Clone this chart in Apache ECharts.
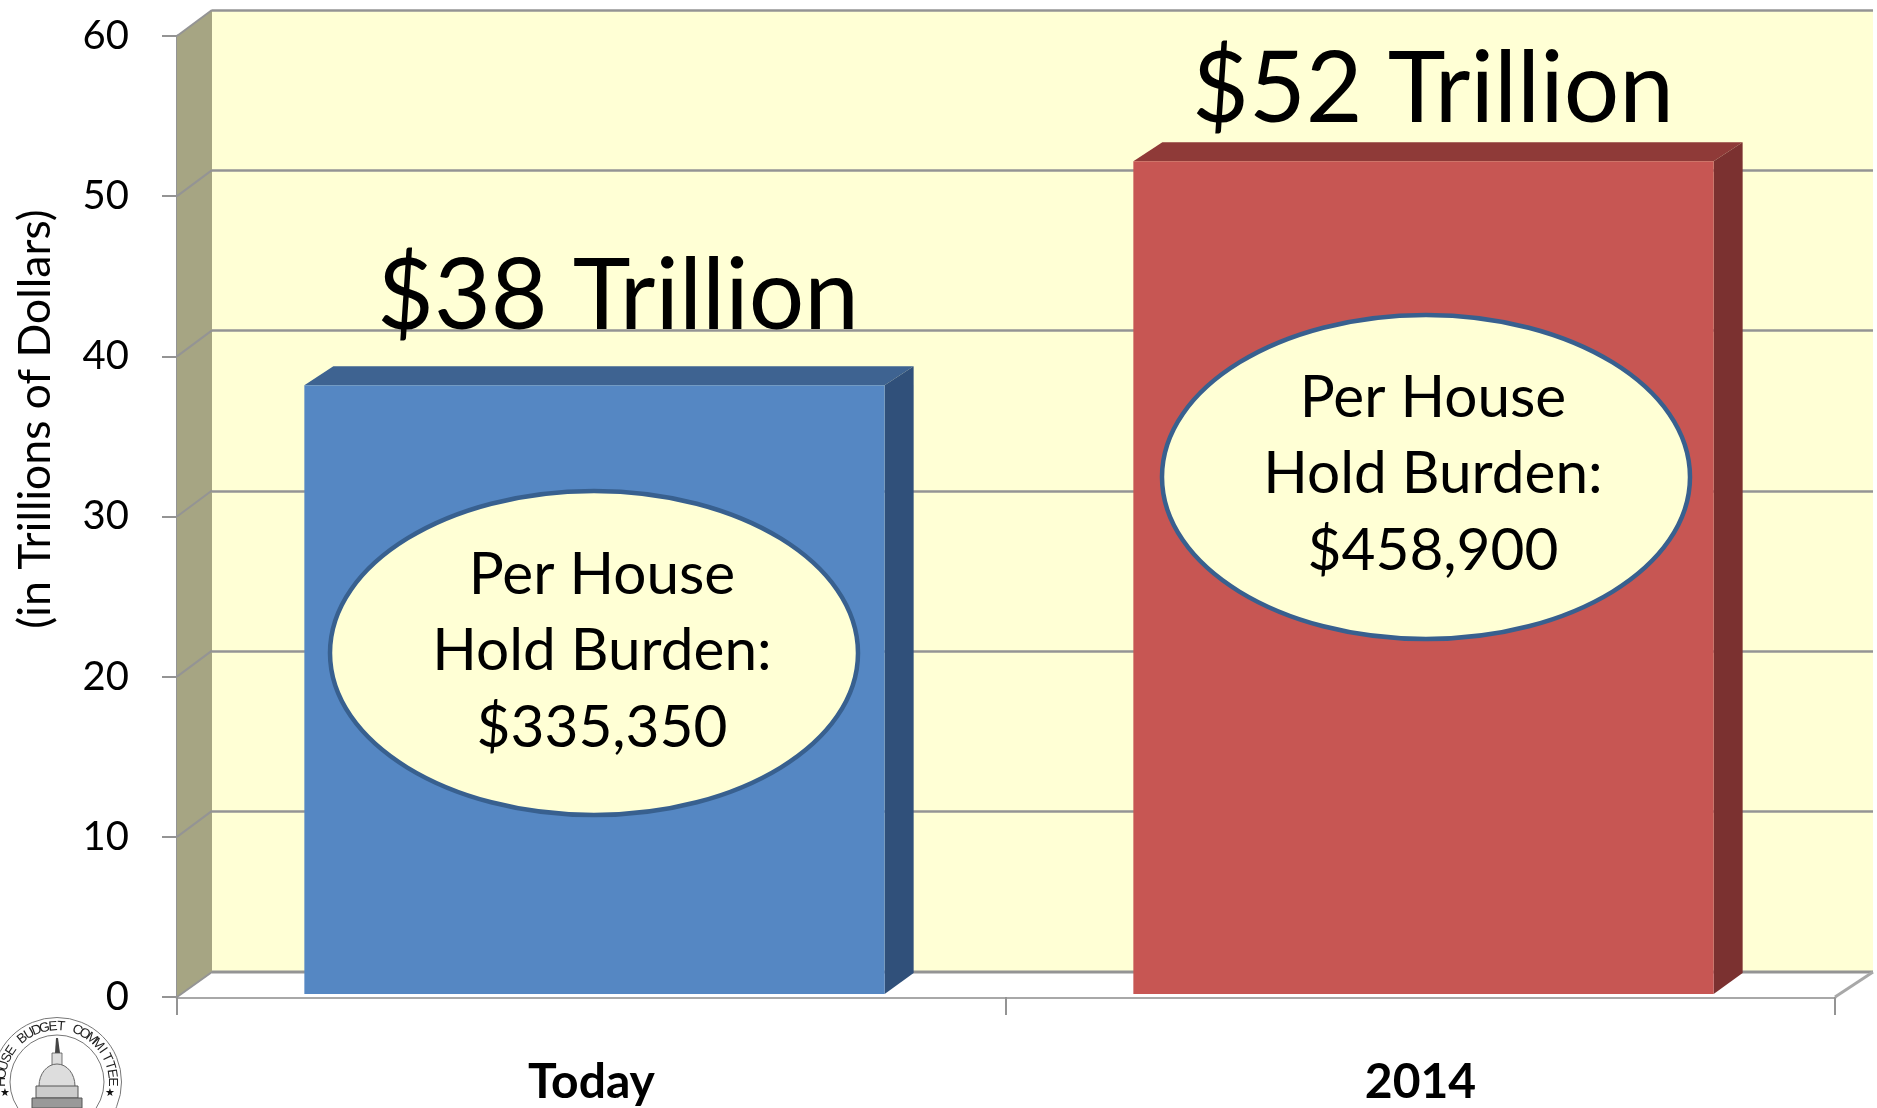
<!DOCTYPE html>
<html><head><meta charset="utf-8">
<style>html,body{margin:0;padding:0;background:#fff}#c{width:1877px;height:1108px}</style>
<script src="https://cdn.jsdelivr.net/npm/echarts@6/dist/echarts.min.js"></script>
</head><body><div id="c"></div>
<script>
const categories = ['Today', '2014'];
const trillions = [38, 52];
const totalLabels = ['$38 Trillion', '$52 Trillion'];
const burdenLabels = ['$335,350', '$458,900'];
const yTicks = [0, 10, 20, 30, 40, 50, 60];
const axisTitle = '(in Trillions of Dollars)';
const sealText = 'HOUSE BUDGET COMMITTEE';

const FONT = 'Lato';
const GRID = '#949494', WALL = '#FFFFD5', SIDE = '#A6A583';
const FRONT = {left: 177, top: 36, width: 1658, height: 961};
const BACK = {left: 212, top: 10, width: 1661, height: 962};
const barStyles = [
  {front: '#5587C3', top: '#3E6391', side: '#30507A'},
  {front: '#C75653', top: '#8F3A38', side: '#7B3130'}
];

const chart = echarts.init(document.getElementById('c'));

function wallItem(params, api) {
  const v = api.value(0);
  const p = api.coord([0, v]);
  const r = params.coordSys;
  const dx = BACK.left - FRONT.left;
  const dy = FRONT.top - BACK.top;
  const x0 = r.x, x1 = r.x + r.width;
  const kids = [];
  if (v === 0) {
    kids.push({type: 'polygon', shape: {points: [[x0, r.y], [x0 + dx, r.y - dy], [x0 + dx, r.y + r.height - dy + 1], [x0, r.y + r.height]]},
      style: {fill: SIDE}});
    kids.push({type: 'polygon', shape: {points: [[x0, r.y + r.height], [x0 + dx, r.y + r.height - dy + 1], [x1 + 38, r.y + r.height - dy + 1], [x1, r.y + r.height]]},
      style: {fill: '#fff'}});
    kids.push({type: 'line', shape: {x1: x0 + dx, y1: r.y + r.height - dy + 1, x2: x1 + 38, y2: r.y + r.height - dy + 1}, style: {stroke: GRID, lineWidth: 3}});
    kids.push({type: 'line', shape: {x1: x1, y1: r.y + r.height, x2: x1 + 38, y2: r.y + r.height - dy + 1}, style: {stroke: '#A8A8A8', lineWidth: 3}});
  }
  kids.push({type: 'line', shape: {x1: x0, y1: p[1], x2: x0 + dx, y2: p[1] - dy + (v === 0 ? 1 : 0)}, style: {stroke: GRID, lineWidth: 2}});
  return {type: 'group', children: kids};
}

function barItem(params, api) {
  const i = api.value(0), v = api.value(1);
  const top = api.coord([i, v]);
  const base = api.coord([i, 0]);
  const band = api.size([1, 0])[0];
  const w = band * 0.7, sx = 3, sy = -3, dx = 29, dy = 20;
  const x0 = top[0] - w / 2 + sx, x1 = x0 + w;
  const y0 = top[1] + sy, y1 = base[1] + sy;
  const c = barStyles[i];
  return {type: 'group', children: [
    {type: 'polygon', shape: {points: [[x0, y0], [x0 + dx, y0 - dy + 1], [x1 + dx, y0 - dy + 1], [x1, y0]]}, style: {fill: c.top}},
    {type: 'polygon', shape: {points: [[x1, y0], [x1 + dx, y0 - dy + 1], [x1 + dx, y1 - dy - 1], [x1, y1]]}, style: {fill: c.side}},
    {type: 'rect', shape: {x: x0, y: y0, width: w, height: y1 - y0}, style: {fill: c.front}}
  ]};
}

function burdenGraphic(i, cx, cy, tx, ty) {
  const lines = ['Per House', 'Hold Burden:', burdenLabels[i]];
  const kids = [{type: 'ellipse', shape: {cx: cx, cy: cy, rx: 264, ry: 162},
    style: {fill: WALL, stroke: '#38608F', lineWidth: 4.5}, z: 10}];
  lines.forEach((s, k) => kids.push({type: 'text', z: 11, x: tx, y: ty + k * 76.5,
    style: {text: s, fontFamily: FONT, fontSize: 58.5, fill: '#000', align: 'center', verticalAlign: 'middle'}}));
  return kids;
}

function sealGraphic() {
  const cx = 57, cy = 1082;
  const g = [
    {type: 'circle', shape: {cx: cx, cy: cy, r: 64.5}, style: {fill: '#fff', stroke: '#777', lineWidth: 1}, z: 10},
    {type: 'circle', shape: {cx: cx, cy: cy, r: 47}, style: {fill: '#fff', stroke: '#777', lineWidth: 1}, z: 10}
  ];
  const chars = sealText.split('');
  chars.forEach((ch, k) => {
    if (ch === ' ') return;
    const a = (-90 + k * 180 / (chars.length - 1)) * Math.PI / 180;
    g.push({type: 'text', z: 11, x: cx + 55.5 * Math.sin(a), y: cy - 55.5 * Math.cos(a), rotation: -a,
      style: {text: ch, fontFamily: 'Liberation Sans', fontSize: 13.5, fill: '#222', align: 'center', verticalAlign: 'middle'}});
  });
  [[5, 1093], [110, 1093]].forEach(p => g.push({type: 'text', z: 11, x: p[0], y: p[1],
    style: {text: '★', fontFamily: 'DejaVu Sans', fontSize: 11, fill: '#111', align: 'center', verticalAlign: 'middle'}}));
  g.push({type: 'polygon', z: 11, shape: {points: [[55, 1053], [56, 1038], [58, 1038], [60, 1053]]}, style: {fill: '#444'}});
  g.push({type: 'rect', z: 11, shape: {x: 52, y: 1053, width: 10, height: 12}, style: {fill: '#ddd', stroke: '#555', lineWidth: 0.8}});
  g.push({type: 'ellipse', z: 11, shape: {cx: 57, cy: 1086, rx: 18, ry: 22}, style: {fill: '#ddd', stroke: '#666', lineWidth: 1}});
  g.push({type: 'rect', z: 12, shape: {x: 36, y: 1086, width: 42, height: 12}, style: {fill: '#ccc', stroke: '#555', lineWidth: 1}});
  g.push({type: 'rect', z: 12, shape: {x: 32, y: 1098, width: 50, height: 10}, style: {fill: '#999', stroke: '#555', lineWidth: 1}});
  return g;
}

chart.setOption({
  animation: false,
  backgroundColor: '#fff',
  grid: [
    Object.assign({show: true, backgroundColor: WALL, borderWidth: 0, outerBoundsMode: 'none'}, BACK),
    Object.assign({show: false, outerBoundsMode: 'none'}, FRONT)
  ],
  xAxis: [
    {gridIndex: 0, type: 'category', data: categories, show: false},
    {gridIndex: 1, type: 'category', data: categories, boundaryGap: true,
      axisLine: {show: true, lineStyle: {color: '#A8A8A8', width: 3}},
      axisTick: {show: true, length: 18, alignWithLabel: false, interval: 0, lineStyle: {color: GRID, width: 2}},
      axisLabel: {margin: 62, fontFamily: FONT, fontSize: 48, fontWeight: 'bold', color: '#000', interval: 0},
      splitLine: {show: false}}
  ],
  yAxis: [
    {gridIndex: 0, type: 'value', min: 0, max: 60, interval: 10,
      axisLine: {show: false}, axisTick: {show: false}, axisLabel: {show: false},
      splitLine: {show: true, lineStyle: {color: GRID, width: 2.5}}},
    {gridIndex: 1, type: 'value', min: 0, max: 60, interval: 10,
      axisLine: {show: true, lineStyle: {color: GRID, width: 3}},
      axisTick: {show: true, length: 15, lineStyle: {color: GRID, width: 2}},
      axisLabel: {margin: 48, fontFamily: FONT, fontSize: 40, color: '#000', padding: [9, 0, 0, 0]},
      splitLine: {show: false}}
  ],
  series: [
    {type: 'custom', name: 'walls', xAxisIndex: 1, yAxisIndex: 1, z: 1, silent: true,
      encode: {y: 0}, data: yTicks.map(v => [v]), renderItem: wallItem, clip: false},
    {type: 'custom', name: 'Debt', xAxisIndex: 1, yAxisIndex: 1, z: 3, silent: true,
      encode: {x: 0, y: 1}, data: trillions.map((v, i) => [i, v]), renderItem: barItem, clip: false}
  ],
  graphic: {elements: [
    ...burdenGraphic(0, 594, 653, 602, 575),
    ...burdenGraphic(1, 1426, 477, 1433, 398),
    {type: 'text', z: 11, x: 618, y: 297, style: {text: totalLabels[0], fontFamily: FONT, fontSize: 98, fill: '#000', align: 'center', verticalAlign: 'middle'}},
    {type: 'text', z: 11, x: 1433, y: 90, style: {text: totalLabels[1], fontFamily: FONT, fontSize: 98, fill: '#000', align: 'center', verticalAlign: 'middle'}},
    {type: 'text', z: 11, x: 36, y: 419, rotation: Math.PI / 2, style: {text: axisTitle, fontFamily: FONT, fontSize: 44.5, fill: '#000', align: 'center', verticalAlign: 'middle'}},
    ...sealGraphic()
  ]}
});
</script></body></html>
